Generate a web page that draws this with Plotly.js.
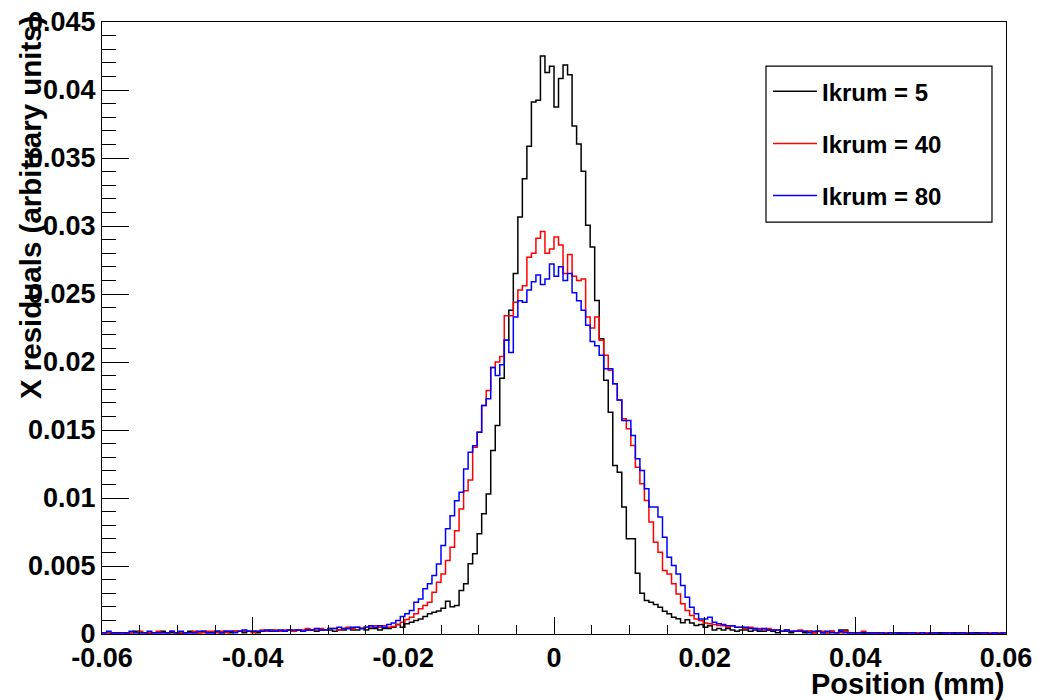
<!DOCTYPE html>
<html><head><meta charset="utf-8">
<script src="https://cdn.plot.ly/plotly-3.0.1.min.js"></script>
<style>html,body{margin:0;padding:0;background:#fff;}</style>
</head><body>
<div id="chart" style="width:1037px;height:700px;"></div>
<script>
// Histogram binning: 200 bins from -0.06 to 0.06
const binLow = -0.06;
const binWidth = 0.0006;
const seriesNames = ["Ikrum = 5", "Ikrum = 40", "Ikrum = 80"];
const seriesColors = ["#000000", "#ff0000", "#0000ff"];
const xTickVals = [-0.06, -0.04, -0.02, 0, 0.02, 0.04, 0.06];
const xTickText = ["-0.06", "-0.04", "-0.02", "0", "0.02", "0.04", "0.06"];
const yTickVals = [0, 0.005, 0.01, 0.015, 0.02, 0.025, 0.03, 0.035, 0.04, 0.045];
const yTickText = ["0", "0.005", "0.01", "0.015", "0.02", "0.025", "0.03", "0.035", "0.04", "0.045"];
const xTitle = "Position (mm)";
const yTitle = "X residuals (arbitrary units)";

const ikrum5 = [
 0.0001,0.0001,0.0000,0.0001,0.0001, 0.0000,0.0001,0.0002,0.0001,0.0001,
 0.0000,0.0001,0.0001,0.0002,0.0001, 0.0001,0.0001,0.0000,0.0001,0.0002,
 0.0001,0.0001,0.0002,0.0001,0.0001, 0.0002,0.0001,0.0002,0.0001,0.0002,
 0.0002,0.0001,0.0002,0.0002,0.0001, 0.0002,0.0002,0.0003,0.0002,0.0002,
 0.0002,0.0003,0.0002,0.0003,0.0002, 0.0003,0.0003,0.0002,0.0003,0.0003,
 0.0003,0.0002,0.0003,0.0003,0.0004, 0.0003,0.0003,0.0004,0.0003,0.0004,
 0.0004,0.0003,0.0004,
 0.0004,0.0005,0.0007,0.0005,0.00075,0.00087,0.0010,
 0.0011,0.00128,0.00148,0.0016,0.0017, 0.0019,0.0024,0.0020,0.0021,0.0032,
 0.00369,0.00516,0.0059,0.00737,0.00884, 0.0103,0.01349,0.01533,0.0188,0.0216,
 0.0238,0.0265,
 0.03066,0.03348,0.03586,0.03911,0.03924, 0.0425,0.04128,0.04174,0.03875,0.04084,
 0.04184,0.04113,0.03735,0.03603,0.03402, 0.03005,
 0.02845,0.02453,0.02171,0.01865,0.01631,
 0.01239,0.0119,0.00933,0.0070,0.0070, 0.00447,0.0030,0.00246,0.00234,0.00217,
 0.00197,0.00168,0.00148,
 0.00124,0.00112,0.00082,0.00104,0.0008, 0.00063,0.0007,0.0005,0.0006,0.0003,
 0.0004,
 0.0003,0.0004,0.0003,0.0002,0.0003, 0.0003,0.0002,0.0003,0.0002,0.0002,
 0.0003,0.0002,0.0001,0.0002,0.0002, 0.0001,0.0002,0.0002,0.0001,0.0002,
 0.0001,0.0002,0.0001,0.0001,
 0.0002,0.0001,0.0003,0.0003,0.0001, 0.0001,0.0001,0.0001,0.0000,0.0001,
 0.0001,0.0001,0.0000,0.0001,0.0001, 0.0001,0.0000,0.0001,0.0001,0.0000,
 0.0001,0.0001,0.0001,0.0000,0.0001, 0.0000,0.0001,0.0001,0.0000,0.0001,
 0.0001,0.0000,0.0001,0.0000,0.0001, 0.0000,0.0001,0.0000,0.0001
];

const ikrum40 = [
 0.0001,0.0001,0.0001,0.0000,0.0001, 0.0001,0.0001,0.0001,0.0002,0.0001,
 0.0001,0.0001,0.0002,0.0001,0.0001, 0.0002,0.0001,0.0001,0.0001,0.0001,
 0.0002,0.0001,0.0001,0.0002,0.0002, 0.0001,0.0002,0.0001,0.0002,0.0002,
 0.0002,0.0002,0.0002,0.0001,0.0002, 0.0003,0.0002,0.0002,0.0003,0.0002,
 0.0003,0.0003,0.0002,0.0003,0.0003, 0.0004,0.0003,0.0003,0.0004,0.0003,
 0.0004,0.0004,0.0003,0.0004,0.0005, 0.0004,0.0005,0.0004,0.0005,0.0005,
 0.0006,0.0005,0.0006,0.0005,
 0.00055,0.0007,0.00087,0.00107,0.00124, 0.00148,0.00185,0.0021,0.00234,0.00307,
 0.0038,0.00442,0.0054,0.00638,0.0076, 0.00919,
 0.01054,0.01133,0.01373,0.01484,0.0168, 0.0179,0.0196,0.0200,0.0204,
 0.0234,0.0234,0.0244,0.0253,0.0256, 0.0277,0.0280,0.0291,0.0296,0.0280,
 0.0283,0.0292,0.0286,0.0265,0.0279, 0.0263,0.0260,0.0261,0.0233,0.0225,
 0.0233,0.0216,0.0205,0.0194,0.0184, 0.0172,
 0.01583,0.01509,0.01386,0.01227,0.01104, 0.00982,0.00823,0.00675,0.00602,0.00467,
 0.00442,0.00369,0.00295,0.00222,0.00172, 0.00136,0.00111,0.00099,0.0008,0.00075,
 0.0007,0.00063,
 0.0006,0.0005,0.0006,0.0005,0.0005, 0.0004,0.0005,0.0004,0.0004,0.0003,
 0.0004,0.0003,0.0003,0.0002,0.0003, 0.0002,0.0002,0.0003,0.0002,0.0002,
 0.0001,0.0002,0.0002,0.0001,
 0.0002,0.0001,0.0001,0.0002,0.0001, 0.0001,0.0001,0.0002,0.0001,0.0001,
 0.0000,0.0001,0.0001,0.0001,0.0001, 0.0000,0.0001,0.0001,0.0000,0.0001,
 0.0001,0.0001,0.0000,0.0001,0.0000, 0.0001,0.0001,0.0000,0.0001,0.0000,
 0.0001,0.0001,0.0000,0.0001,0.0000, 0.0001,0.0000,0.0001,0.0000
];

const ikrum80 = [
 0.0001,0.0002,0.0001,0.0001,0.0001, 0.0001,0.0002,0.0001,0.0001,0.0001,
 0.0002,0.0001,0.0001,0.0001,0.0001, 0.0002,0.0001,0.0002,0.0001,0.0001,
 0.0001,0.0002,0.0002,0.0001,0.0001, 0.0002,0.0001,0.0002,0.0002,0.0001,
 0.0002,0.0003,0.0002,0.0002,0.0002, 0.0002,0.0003,0.0002,0.0002,0.0003,
 0.0002,0.0003,0.0003,0.0003,0.0002, 0.0003,0.0003,0.0004,0.0003,0.0003,
 0.0004,0.0004,0.0005,0.0004,0.0004, 0.0005,0.0005,0.0004,0.0005,0.0006,
 0.0005,0.0006,0.0005,0.0007,
 0.0008,0.00099,0.00128,0.00148,0.00172, 0.00234,0.00258,0.00332,0.00369,0.0043,
 0.00515,0.0065,0.00773,0.0087,0.0098, 0.01042,0.01214,0.01336,0.01385,0.01484,
 0.0168,0.0173,0.0196,0.0190,0.0198, 0.0216,0.0207,0.0233,0.0245,0.0244,
 0.0253,0.0259,0.0264,0.0257,0.0261, 0.0272,0.0263,0.0270,0.0260,0.0265,
 0.0251,0.0245,0.0238,0.0227,0.0215, 0.0212,0.0205,0.0195,0.0195,0.0184,
 0.0172,
 0.0157,0.0157,0.0146,0.01288,0.01203, 0.01068,0.00933,0.00933,0.0086,0.00712,
 0.00565,0.00503,0.00442,0.00357,0.00271, 0.00197,0.00148,0.00111,0.00111,0.00124,
 0.00087,0.00075,
 0.0007,0.0006,0.0006,0.0005,0.0005, 0.0005,0.0004,0.0004,0.0003,0.0004,
 0.0003,0.0003,0.0003,0.0002,0.0003, 0.0002,0.0002,0.0002,0.0002,0.0001,
 0.0002,0.0002,0.0001,0.0002,
 0.0001,0.0001,0.0002,0.0001,0.0001, 0.0001,0.0001,0.0000,0.0001,0.0001,
 0.0001,0.0001,0.0000,0.0001,0.0001, 0.0000,0.0001,0.0001,0.0001,0.0000,
 0.0001,0.0000,0.0001,0.0001,0.0000, 0.0001,0.0001,0.0000,0.0001,0.0001,
 0.0000,0.0001,0.0000,0.0001,0.0001, 0.0000,0.0001,0.0000,0.0001
];

function stepTrace(vals, name, color) {
  const x = vals.map((v, i) => binLow + i * binWidth);
  x.push(binLow + vals.length * binWidth);
  const y = vals.concat([vals[vals.length - 1]]);
  return {
    type: 'scatter', mode: 'lines', x: x, y: y, name: name,
    legendgroup: name, hoverinfo: 'skip',
    line: { color: color, width: 1.5, shape: 'hv' }
  };
}

const data = [
  stepTrace(ikrum5, seriesNames[0], seriesColors[0]),
  stepTrace(ikrum40, seriesNames[1], seriesColors[1]),
  stepTrace(ikrum80, seriesNames[2], seriesColors[2])
];

const FONT = "Liberation Sans, Arial, Helvetica, sans-serif";

const layout = {
  width: 1037, height: 700,
  margin: { l: 102, r: 31, t: 22, b: 66, pad: 0 },
  paper_bgcolor: '#ffffff', plot_bgcolor: '#ffffff',
  font: { family: FONT, color: '#000', size: 27, weight: 'bold' },
  showlegend: true,
  legend: {
    x: 0.7367, y: 0.923, xanchor: 'left', yanchor: 'top',
    bgcolor: 'rgba(0,0,0,0)', borderwidth: 0,
    font: { family: FONT, size: 24, color: '#000', weight: 'bold' },
    tracegroupgap: 18, itemwidth: 44
  },
  shapes: [
    { type: 'rect', xref: 'paper', yref: 'paper',
      x0: 0.7345, x1: 0.9845, y0: 0.673, y1: 0.928,
      line: { color: '#000', width: 1.2 }, fillcolor: '#ffffff', layer: 'above' }
  ],
  xaxis: {
    range: [-0.06, 0.06], tickmode: 'array', tickvals: xTickVals, ticktext: xTickText,
    ticks: 'inside', ticklen: 17, tickwidth: 1, tickcolor: '#000',
    minor: { dtick: 0.005, ticks: 'inside', ticklen: 9, tickwidth: 1, tickcolor: '#000', showgrid: false },
    showgrid: false, zeroline: false,
    showline: true, mirror: true, linecolor: '#000', linewidth: 1,
    tickfont: { family: FONT, size: 27, color: '#000', weight: 'bold' }
  },
  yaxis: {
    range: [0, 0.045], tickmode: 'array', tickvals: yTickVals, ticktext: yTickText,
    ticks: 'inside', ticklen: 27, tickwidth: 1, tickcolor: '#000',
    minor: { dtick: 0.001, ticks: 'inside', ticklen: 14, tickwidth: 1, tickcolor: '#000', showgrid: false },
    showgrid: false, zeroline: false,
    showline: true, mirror: true, linecolor: '#000', linewidth: 1,
    tickfont: { family: FONT, size: 27, color: '#000', weight: 'bold' }
  },
  annotations: [
    { text: xTitle, xref: 'paper', yref: 'paper', x: 1, y: 0,
      xanchor: 'right', yanchor: 'middle', yshift: -50, showarrow: false,
      font: { family: FONT, size: 29, color: '#000', weight: 'bold' } },
    { text: yTitle, xref: 'paper', yref: 'paper', x: -0.0796, y: 1,
      xanchor: 'center', yanchor: 'top', yshift: 9, textangle: -90, showarrow: false,
      font: { family: FONT, size: 29.5, color: '#000', weight: 'bold' } }
  ]
};

Plotly.newPlot('chart', data, layout, { displayModeBar: false, staticPlot: true });
</script>
</body></html>
